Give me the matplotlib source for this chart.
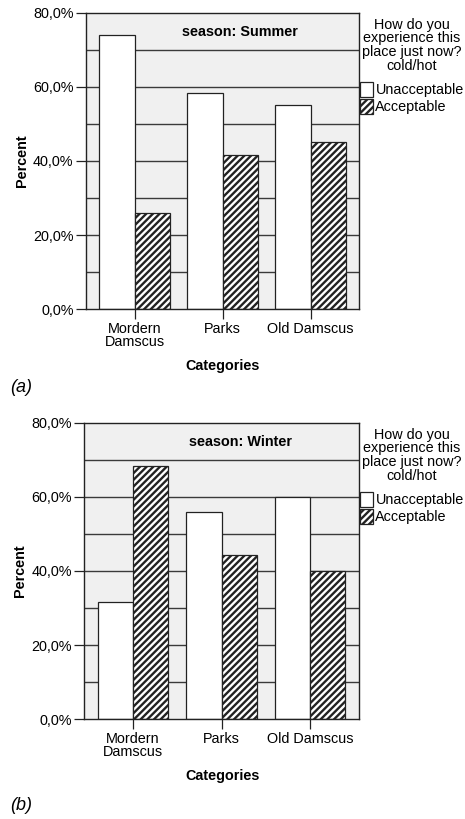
import matplotlib
matplotlib.use("Agg")
import matplotlib.pyplot as plt
from matplotlib.patches import Patch
import numpy as np

plt.rcParams['font.family'] = ['Liberation Sans', 'DejaVu Sans']
plt.rcParams['hatch.linewidth'] = 1.7
plt.rcParams['hatch.color'] = 'black'

categories = ["Mordern\nDamscus", "Parks", "Old Damscus"]
series_names = ["Unacceptable", "Acceptable"]
summer_unacceptable = [74.1, 58.3, 55.0]
summer_acceptable = [25.9, 41.7, 45.0]
winter_unacceptable = [31.7, 55.8, 60.0]
winter_acceptable = [68.3, 44.2, 40.0]
seasons = ["season: Summer", "season: Winter"]
panel_labels = ["(a)", "(b)"]
yticks = [0, 20, 40, 60, 80]
ytick_labels = ["0,0%", "20,0%", "40,0%", "60,0%", "80,0%"]
legend_title = "How do you\nexperience this\nplace just now?\ncold/hot"

W, H = 465, 819
fig = plt.figure(figsize=(W / 100, H / 100), dpi=100)

FS = 10.4
HATCH = '/////'

def px_ax(l, r, top, bot):
    return [l / W, 1 - bot / H, (r - l) / W, (bot - top) / H]

panels = [
    dict(rect=px_ax(86, 359.3, 12.7, 309.3), unacc=summer_unacceptable, acc=summer_acceptable,
         title=seasons[0], label=panel_labels[0], label_y=387, cat_y=366, leg_top=12.7),
    dict(rect=px_ax(84.3, 358.7, 422.7, 719.3), unacc=winter_unacceptable, acc=winter_acceptable,
         title=seasons[1], label=panel_labels[1], label_y=806, cat_y=776, leg_top=422.7),
]

w = 0.4
x = np.arange(len(categories))
for p in panels:
    ax = fig.add_axes(p['rect'])
    ax.set_facecolor('#f0f0f0')
    ax.set_xlim(-0.553, 2.553)
    ax.set_ylim(0, 80)
    for g in range(10, 80, 10):
        ax.axhline(g, color='#3a3a3a', lw=1.0, zorder=1)
    ax.bar(x - w / 2, p['unacc'], width=w, color='white', edgecolor='#222222', lw=0.9, zorder=2)
    ax.bar(x + w / 2, p['acc'], width=w, color='white', edgecolor='#222222', lw=0.9,
           hatch=HATCH, zorder=2)
    ax.set_yticks(yticks)
    ax.set_yticklabels(ytick_labels, fontsize=FS)
    ax.set_xticks(x)
    ax.set_xticklabels(categories, fontsize=FS, linespacing=0.95)
    ax.tick_params(axis='both', direction='out', length=7, width=0.9, color='#222222', pad=2)
    for s in ax.spines.values():
        s.set_color('#222222')
        s.set_linewidth(1.0)
    ax.set_ylabel("Percent", fontsize=FS, fontweight='bold', labelpad=3)
    ax.text((240 - p['rect'][0] * W) / (p['rect'][2] * W), 0.935, p['title'],
            transform=ax.transAxes, ha='center', va='center', fontsize=FS, fontweight='bold', zorder=5)
    fig.text(222.5 / W, 1 - p['cat_y'] / H, "Categories", ha='center', va='center',
             fontsize=FS, fontweight='bold')
    fig.text(10 / W, 1 - p['label_y'] / H, p['label'], ha='left', va='center',
             fontsize=13, style='italic')
    fig.text(412 / W, 1 - (p['leg_top'] + 5) / H, legend_title, ha='center', va='top',
             fontsize=FS, linespacing=0.98)
    handles = [Patch(facecolor='white', edgecolor='#222222', lw=0.9),
               Patch(facecolor='white', edgecolor='#222222', lw=0.9, hatch=HATCH)]
    fig.legend(handles, series_names, loc='upper left',
               bbox_to_anchor=(359.5 / W, 1 - (p['leg_top'] + 69) / H),
               frameon=False, fontsize=FS, handlelength=0.95, handleheight=1.25,
               handletextpad=0.15, labelspacing=0.1, borderpad=0, borderaxespad=0)

fig.savefig("out.png", dpi=100)
